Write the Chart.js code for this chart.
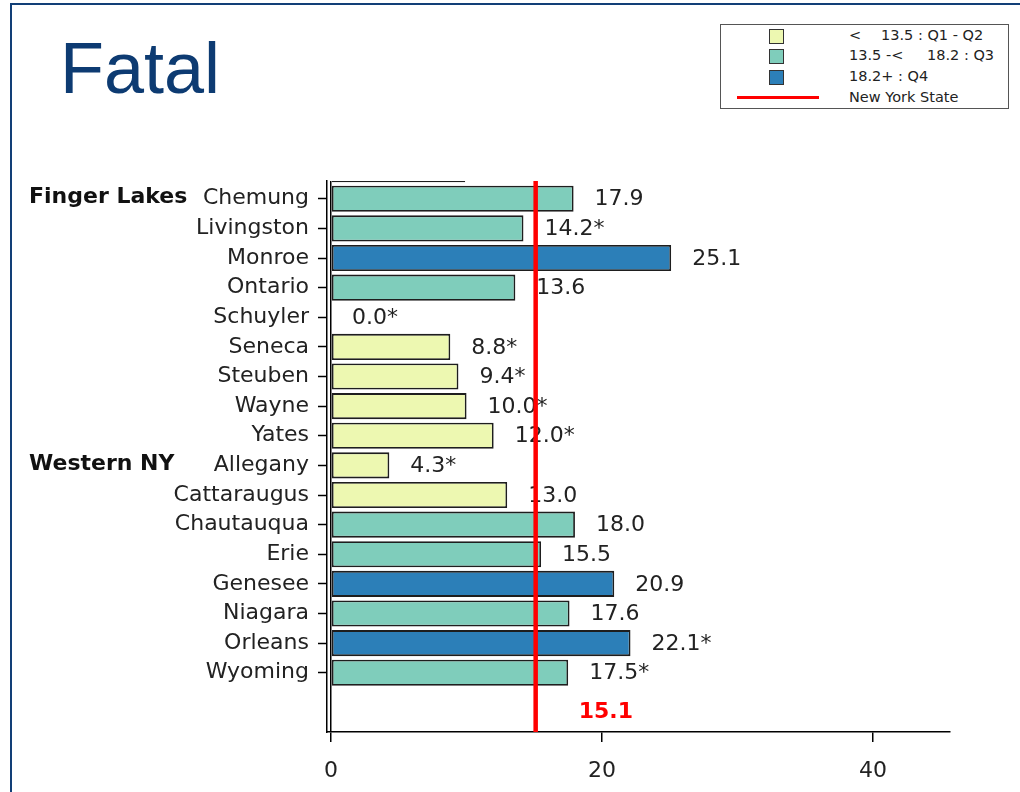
<!DOCTYPE html>
<html>
<head>
<meta charset="utf-8">
<script src="https://cdn.jsdelivr.net/npm/chart.js@4/dist/chart.umd.min.js"></script>
<style>
  body { margin: 0; width: 1020px; height: 792px; overflow: hidden; background: #fff; position: relative; }
  #frame { position: absolute; left: 10px; top: 3px; width: 1100px; height: 900px; border-left: 2px solid #123f77; border-top: 2px solid #123f77; }
  #title { position: absolute; left: 60px; top: 32px; font: 72px/1 "Liberation Sans", Arial, sans-serif; color: #0d3b72; }
  #legend { position: absolute; left: 720px; top: 24px; width: 287px; height: 83px; border: 1px solid #555; font: 14.5px "DejaVu Sans", sans-serif; color: #222; }
  #legend .sw { position: absolute; width: 13px; height: 13px; border: 1px solid #333; }
  #legend .ln { position: absolute; height: 3px; background: #ff0000; }
  #legend span { position: absolute; white-space: pre; line-height: 1; }
  #graphic { position: absolute; left: 0; top: 0; }
</style>
</head>
<body>
<div id="frame"></div>
<div id="title">Fatal</div>
<div id="legend"></div>
<canvas id="graphic" width="1020" height="792"></canvas>
<script>
const counties = ["Chemung", "Livingston", "Monroe", "Ontario", "Schuyler", "Seneca", "Steuben", "Wayne", "Yates",
  "Allegany", "Cattaraugus", "Chautauqua", "Erie", "Genesee", "Niagara", "Orleans", "Wyoming"];
const rates = [17.9, 14.2, 25.1, 13.6, 0.0, 8.8, 9.4, 10.0, 12.0, 4.3, 13.0, 18.0, 15.5, 20.9, 17.6, 22.1, 17.5];
const starred = [false, true, false, false, true, true, true, true, true, true, false, false, false, false, false, true, true];
const groups = ["Finger Lakes", "Western NY"];
const groupStarts = ["Chemung", "Allegany"];
// bar of the row above Chemung, cut off by the top of the plot
const cutRate = 9.9;
const stateRate = 15.1;
const binCuts = [13.5, 18.2];
const binColors = ["#edf8b1", "#7fcdbb", "#2c7fb8"];
const xTicks = [0, 20, 40];

const binOf = v => v < binCuts[0] ? 0 : (v < binCuts[1] ? 1 : 2);

// legend
const leg = document.getElementById("legend");
const legRows = [
  [["<", 128], ["13.5 : Q1 - Q2", 160]],
  [["13.5 -<", 128], ["18.2 : Q3", 206]],
  [["18.2+ : Q4", 128]],
  [["New York State", 128]]
];
const rowTop = [3, 23, 44, 65];
legRows.forEach((row, i) => {
  if (i < 3) {
    const sw = document.createElement("div");
    sw.className = "sw";
    sw.style.left = "48px";
    sw.style.top = (rowTop[i] + 1) + "px";
    sw.style.background = binColors[i];
    leg.appendChild(sw);
  } else {
    const ln = document.createElement("div");
    ln.className = "ln";
    ln.style.left = "16px";
    ln.style.width = "82px";
    ln.style.top = (rowTop[i] + 6) + "px";
    leg.appendChild(ln);
  }
  row.forEach(([t, x]) => {
    const s = document.createElement("span");
    s.textContent = t;
    s.style.left = x + "px";
    s.style.top = rowTop[i] + "px";
    leg.appendChild(s);
  });
});

const points = [{ x: cutRate, y: -1 }].concat(rates.map((r, i) => ({ x: r, y: i })));

const extras = {
  id: "extras",
  afterDatasetsDraw(chart) {
    const ctx = chart.ctx;
    const xs = chart.scales.x, ys = chart.scales.y, area = chart.chartArea;
    ctx.save();
    // value labels
    ctx.font = "22px 'DejaVu Sans'";
    ctx.fillStyle = "#222";
    ctx.textBaseline = "middle";
    ctx.textAlign = "left";
    chart.getDatasetMeta(0).data.forEach((bar, i) => {
      if (i === 0) return;
      const k = i - 1;
      ctx.fillText(rates[k].toFixed(1) + (starred[k] ? "*" : ""), bar.x + 21, bar.y + 1);
    });
    // state line
    const sx = xs.getPixelForValue(stateRate);
    ctx.strokeStyle = "#ff0000";
    ctx.lineWidth = 4.5;
    ctx.beginPath();
    ctx.moveTo(sx, area.top);
    ctx.lineTo(sx, area.bottom);
    ctx.stroke();
    ctx.font = "bold 22px 'DejaVu Sans'";
    ctx.fillStyle = "#ff0000";
    ctx.fillText(stateRate.toFixed(1), sx + 43, ys.getPixelForValue(17.33));
    // region labels
    ctx.font = "bold 22px 'DejaVu Sans'";
    ctx.fillStyle = "#111";
    groups.forEach((g, i) => {
      ctx.fillText(g, 29, ys.getPixelForValue(counties.indexOf(groupStarts[i])) - 1);
    });
    ctx.restore();
  }
};

new Chart(document.getElementById("graphic"), {
  type: "bar",
  data: {
    datasets: [{
      data: points,
      backgroundColor: points.map(p => binColors[binOf(p.x)]),
      borderColor: "#1e1e1e",
      borderWidth: 1.8,
      borderSkipped: false,
      barPercentage: 0.88,
      categoryPercentage: 1,
      clip: 0
    }]
  },
  options: {
    indexAxis: "y",
    responsive: false,
    animation: false,
    devicePixelRatio: 1,
    layout: { padding: { top: 181, right: 70, bottom: 0, left: 0 } },
    plugins: { legend: { display: false }, tooltip: { enabled: false } },
    scales: {
      y: {
        type: "linear",
        reverse: true,
        min: -0.6,
        max: 18.0,
        offset: false,
        afterBuildTicks: s => { s.ticks = counties.map((c, i) => ({ value: i })); },
        afterFit: s => { s.width = 327; },
        ticks: {
          callback: v => counties[v] ?? "",
          font: { family: "DejaVu Sans", size: 22 },
          color: "#222",
          padding: 9,
          autoSkip: false
        },
        grid: { offset: false, drawOnChartArea: false, tickLength: 9, tickColor: "#000", tickWidth: 1.5 },
        border: { color: "#000", width: 1.5 }
      },
      x: {
        min: -0.3,
        max: 45.68,
        afterBuildTicks: s => { s.ticks = xTicks.map(v => ({ value: v })); },
        afterFit: s => { s.height = 60; },
        ticks: {
          font: { family: "DejaVu Sans", size: 22 },
          color: "#222",
          padding: 16
        },
        grid: {
          color: c => (c.tick && c.tick.value === 0) ? "#000" : "rgba(0,0,0,0)",
          lineWidth: 1.5,
          tickLength: 10,
          tickColor: "#000",
          tickWidth: 1.5
        },
        border: { color: "#000", width: 1.5 }
      }
    }
  },
  plugins: [extras]
});
</script>
</body>
</html>
